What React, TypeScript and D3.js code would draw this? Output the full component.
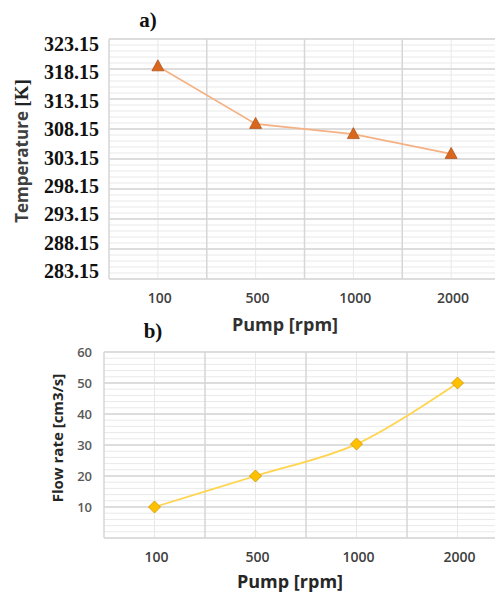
import React from "react";
import * as d3 from "d3";

const categories = ["100", "500", "1000", "2000"];
const temperatureK = [318.6, 309.0, 307.3, 304.0];
const flowRate = [10, 20, 30.3, 50];
const tempTicks = [283.15, 288.15, 293.15, 298.15, 303.15, 308.15, 313.15, 318.15, 323.15];
const flowTicks = [10, 20, 30, 40, 50, 60];

const W = 495;
const H = 597;

function Grid({ x, y, yMin, yMax, minorStep, majorStep, top, bottom, left, right }: any) {
  const minors = d3.range(yMin, yMax + 1e-6, minorStep);
  const majors = d3.range(yMin, yMax + 1e-6, majorStep);
  const bw = x.bandwidth();
  const bounds = categories.map((c) => x(c)).concat([x(categories[categories.length - 1]) + bw]);
  return (
    <g>
      {minors.map((v: number, i: number) => (
        <line key={"mn" + i} x1={left} x2={right} y1={y(v)} y2={y(v)} stroke="#e9e9e9" strokeWidth={1} />
      ))}
      {categories.map((c) => (
        <line key={"vc" + c} x1={x(c) + bw / 2} x2={x(c) + bw / 2} y1={top} y2={bottom} stroke="#e8e8e8" strokeWidth={1} />
      ))}
      {majors.map((v: number, i: number) => (
        <line key={"mj" + i} x1={left} x2={right} y1={y(v)} y2={y(v)} stroke="#d6d6d6" strokeWidth={1.5} />
      ))}
      {bounds.map((b: number, i: number) => (
        <line key={"vb" + i} x1={b} x2={b} y1={top} y2={bottom} stroke="#d6d6d6" strokeWidth={1.5} />
      ))}
    </g>
  );
}

export default function App() {
  // Chart a
  const aL = 109, aR = 500, aT = 39, aB = 279;
  const xa = d3.scaleBand().domain(categories).range([aL, aR]).padding(0);
  const ya = d3.scaleLinear().domain([283.15, 323.15]).range([aB, aT]);
  const yaLab = d3.scaleLinear().domain([283.15, 323.15]).range([271, 44]);
  const lineA = d3
    .line<number>()
    .x((_, i) => (xa(categories[i]) as number) + xa.bandwidth() / 2)
    .y((d) => ya(d));

  // Chart b
  const bL = 104, bR = 508, bT = 352, bB = 538;
  const xb = d3.scaleBand().domain(categories).range([bL, bR]).padding(0);
  const yb = d3.scaleLinear().domain([0, 60]).range([bB, bT]);
  const lineB = d3
    .line<number>()
    .x((_, i) => (xb(categories[i]) as number) + xb.bandwidth() / 2)
    .y((d) => yb(d))
    .curve(d3.curveCatmullRom.alpha(0.5));

  const sans = "'Open Sans', 'Liberation Sans', sans-serif";
  const serif = "'Liberation Serif', 'Times New Roman', serif";

  return (
    <svg width={W} height={H} style={{ position: "absolute", left: 0, top: 0, background: "#fff" }}>
      <rect x={0} y={0} width={W} height={H} fill="#fff" />
      {/* ---------- Chart a ---------- */}
      <Grid x={xa} y={ya} yMin={283.15} yMax={323.15} minorStep={1} majorStep={5} top={aT} bottom={aB} left={aL} right={aR} />
      <path d={lineA(temperatureK) as string} fill="none" stroke="#f4b183" strokeWidth={1.6} />
      {temperatureK.map((v, i) => {
        const cx = (xa(categories[i]) as number) + xa.bandwidth() / 2;
        const cy = ya(v);
        return (
          <path
            key={"ta" + i}
            d={`M${cx},${cy - 6.5}L${cx + 6},${cy + 4.5}L${cx - 6},${cy + 4.5}Z`}
            fill="#d9671e"
            stroke="#b4561a"
            strokeWidth={0.8}
          />
        );
      })}
      {tempTicks.map((t) => (
        <text key={"yt" + t} x={99} y={yaLab(t)} dy="0.35em" textAnchor="end" fontFamily={serif} fontWeight="bold" fontSize={20} fill="#111">
          {t.toFixed(2)}
        </text>
      ))}
      {categories.map((c) => (
        <text key={"xa" + c} x={(xa(c) as number) + xa.bandwidth() / 2 + 2} y={298} dy="0.35em" textAnchor="middle" fontFamily={sans} fontWeight={600} fontSize={14} fill="#404040">
          {c}
        </text>
      ))}
      <text x={285} y={325} dy="0.35em" textAnchor="middle" fontFamily={sans} fontWeight="bold" fontSize={18} fill="#303030">
        Pump [rpm]
      </text>
      <text x={148} y={20} dy="0.35em" textAnchor="middle" fontFamily={serif} fontWeight="bold" fontSize={21} fill="#111">
        a)
      </text>
      <text transform="translate(22,151) rotate(-90)" textAnchor="middle" dy="0.35em" fontWeight="bold">
        <tspan fontFamily={sans} fontSize={17} fill="#404040">Temperature </tspan>
        <tspan fontFamily={serif} fontSize={19} fill="#222"> [K]</tspan>
      </text>

      {/* ---------- Chart b ---------- */}
      <Grid x={xb} y={yb} yMin={0} yMax={60} minorStep={2} majorStep={10} top={bT} bottom={bB} left={bL} right={bR} />
      <path d={lineB(flowRate) as string} fill="none" stroke="#ffd44f" strokeWidth={1.8} />
      {flowRate.map((v, i) => {
        const cx = (xb(categories[i]) as number) + xb.bandwidth() / 2;
        const cy = yb(v);
        return (
          <path
            key={"db" + i}
            d={`M${cx},${cy - 6}L${cx + 6},${cy}L${cx},${cy + 6}L${cx - 6},${cy}Z`}
            fill="#ffc000"
            stroke="#c99700"
            strokeWidth={0.8}
          />
        );
      })}
      {flowTicks.map((t) => (
        <text key={"yb" + t} x={92} y={yb(t)} dy="0.35em" textAnchor="end" fontFamily={sans} fontWeight={600} fontSize={13} fill="#595959">
          {t}
        </text>
      ))}
      {categories.map((c) => (
        <text key={"xb" + c} x={(xb(c) as number) + xb.bandwidth() / 2 + 2} y={557} dy="0.35em" textAnchor="middle" fontFamily={sans} fontWeight={600} fontSize={14} fill="#404040">
          {c}
        </text>
      ))}
      <text x={290} y={582} dy="0.35em" textAnchor="middle" fontFamily={sans} fontWeight="bold" fontSize={18} fill="#262626">
        Pump [rpm]
      </text>
      <text x={153} y={331} dy="0.35em" textAnchor="middle" fontFamily={serif} fontWeight="bold" fontSize={21} fill="#111">
        b)
      </text>
      <text transform="translate(58,438) rotate(-90)" textAnchor="middle" dy="0.35em" fontFamily={sans} fontWeight="bold" fontSize={15} fill="#262626">
        Flow rate [cm3/s]
      </text>
    </svg>
  );
}
